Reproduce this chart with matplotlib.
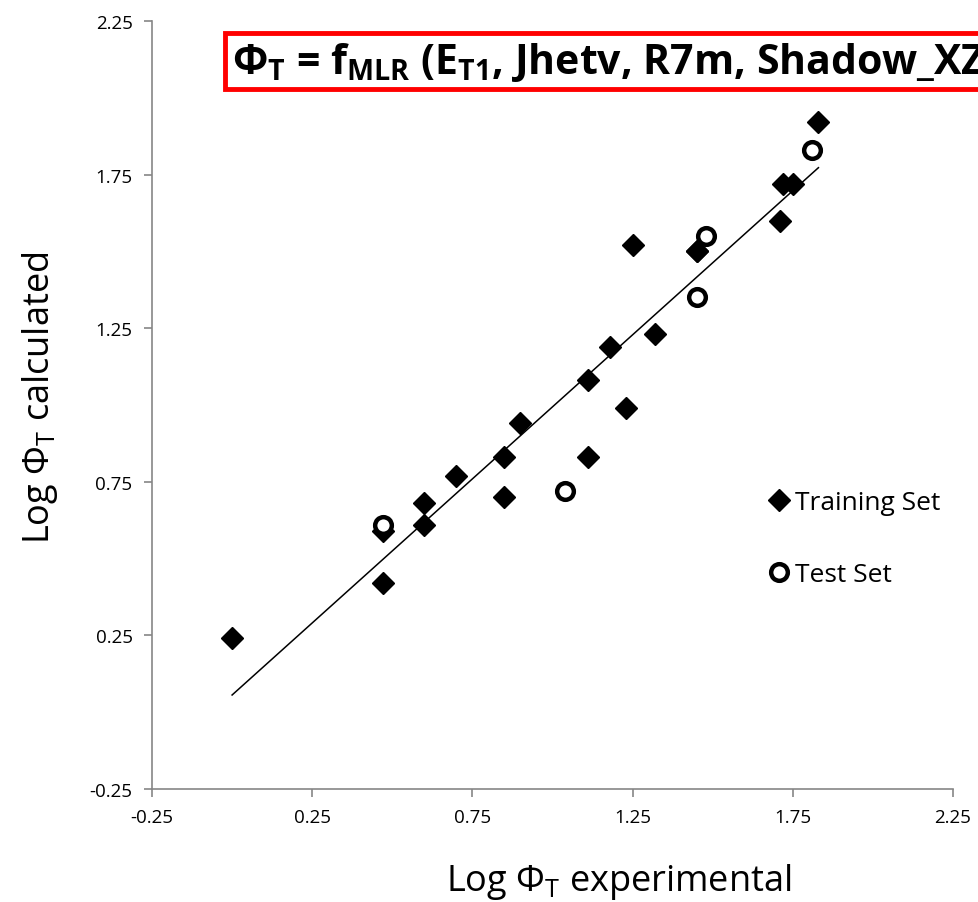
import matplotlib
matplotlib.use("Agg")
import matplotlib.pyplot as plt
import numpy as np

plt.rcParams['font.family'] = ['Open Sans', 'DejaVu Sans']
plt.rcParams['mathtext.fontset'] = 'custom'
plt.rcParams['mathtext.rm'] = 'Open Sans'
plt.rcParams['mathtext.it'] = 'Open Sans'
plt.rcParams['mathtext.bf'] = 'Open Sans:bold'

# Training set
train_x = [0.00, 0.47, 0.47, 0.60, 0.60, 0.70, 0.85, 0.85, 0.90, 1.11, 1.11,
           1.18, 1.23, 1.25, 1.32, 1.45, 1.71, 1.72, 1.75, 1.83, 1.45]
train_y = [0.24, 0.59, 0.42, 0.68, 0.61, 0.77, 0.83, 0.70, 0.94, 1.08, 0.83,
           1.19, 0.99, 1.52, 1.23, 1.50, 1.60, 1.72, 1.72, 1.92, 1.50]
# Test set
test_x = [0.47, 1.04, 1.45, 1.48, 1.81]
test_y = [0.61, 0.72, 1.35, 1.55, 1.83]

# Trendline parameters (from chart)
fit_slope = 0.938
fit_intercept = 0.056

ticks = [-0.25, 0.25, 0.75, 1.25, 1.75, 2.25]
tick_labels = ["-0.25", "0.25", "0.75", "1.25", "1.75", "2.25"]

fig = plt.figure(figsize=(9.79, 9.03), dpi=100)
ax = fig.add_axes([152/979, 1-790/903, (953-152)/979, (790-22)/903])

lx = np.array([min(train_x), max(train_x)])
ax.plot(lx, fit_slope*lx + fit_intercept, color='black', lw=1.1, zorder=2)

ax.plot(train_x, train_y, linestyle='none', marker='D', ms=11, color='black',
        label='Training Set', zorder=3)
ax.plot(test_x, test_y, linestyle='none', marker='o', ms=12, mfc='white',
        mec='black', mew=3.2, label='Test Set', zorder=4)

ax.set_xlim(-0.25, 2.25)
ax.set_ylim(-0.25, 2.25)
ax.set_xticks(ticks)
ax.set_xticklabels(tick_labels)
ax.set_yticks(ticks)
ax.set_yticklabels(tick_labels)
for s in ['top', 'right']:
    ax.spines[s].set_visible(False)
for s in ['left', 'bottom']:
    ax.spines[s].set_color('#868686')
    ax.spines[s].set_linewidth(1.2)
ax.tick_params(direction='out', length=6, width=1.2, color='#868686',
               labelsize=13.5, pad=8)

ax.set_xlabel(r"Log $\Phi_\mathrm{T}$ experimental", fontsize=26)
ax.set_ylabel(r"Log $\Phi_\mathrm{T}$ calculated", fontsize=26)
ax.xaxis.set_label_coords((619-152)/801, (790-862)/768)
ax.yaxis.set_label_coords((60-152)/801, (790-398)/768)

leg = ax.legend(loc='center left', bbox_to_anchor=(0.737, 0.326), frameon=False,
                fontsize=19, handletextpad=0.1, labelspacing=1.76,
                handlelength=1.0)

fig.text(232/979, 1-62/903,
         r"$\mathbf{\Phi_{T}}$ = $\mathbf{f_{MLR}}$ ($\mathbf{E_{T1}}$, Jhetv, R7m, Shadow_XZ)",
         fontsize=29.5, fontweight='bold', va='center', ha='left',
         bbox=dict(boxstyle='square,pad=0.16', fc='white', ec='#ff0000', lw=3.5),
         zorder=10)

fig.savefig("out.png", dpi=100)
